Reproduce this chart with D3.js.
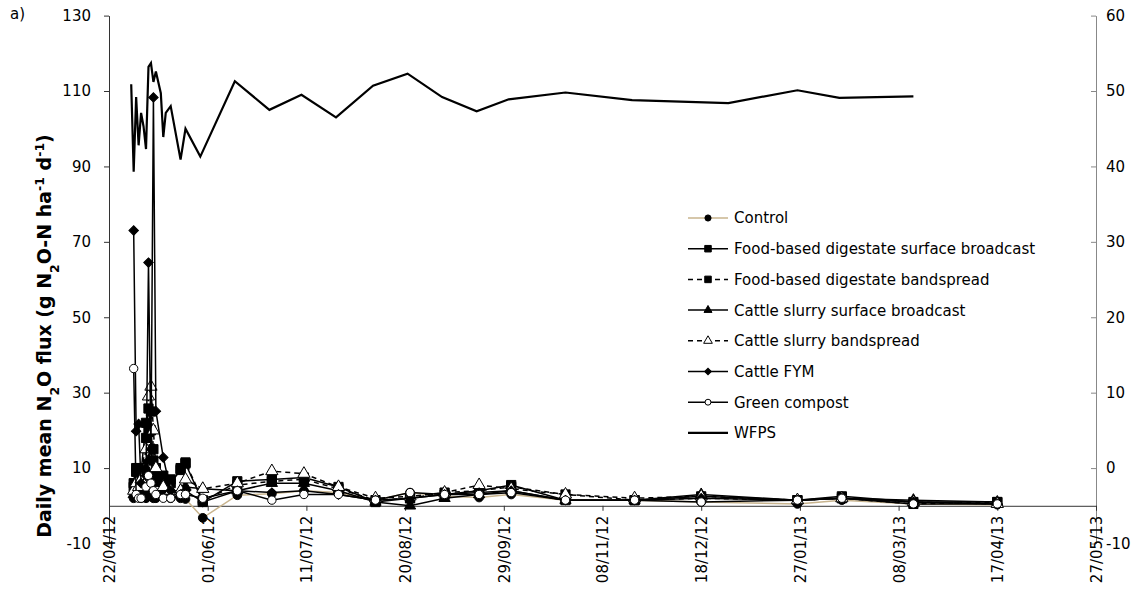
<!DOCTYPE html>
<html lang="en">
<head>
<meta charset="UTF-8">
<title>Daily mean N2O flux</title>
<style>
  body { margin: 0; background: #fff; }
  svg text { font-family: "DejaVu Sans", Verdana, sans-serif; fill: #000; }
</style>
</head>
<body>
<svg width="1140" height="594"></svg>
<script src="https://d3js.org/d3.v7.min.js"></script>
<script>

// sampling dates of the N2O flux series
var fluxDates = ["2012-05-02", "2012-05-03", "2012-05-04", "2012-05-05", "2012-05-07", "2012-05-08",
    "2012-05-09", "2012-05-10", "2012-05-11", "2012-05-14", "2012-05-17", "2012-05-21", "2012-05-23",
    "2012-05-30", "2012-06-13", "2012-06-27", "2012-07-10", "2012-07-24", "2012-08-08", "2012-08-22",
    "2012-09-05", "2012-09-19", "2012-10-02", "2012-10-24", "2012-11-21", "2012-12-18", "2013-01-26",
    "2013-02-13", "2013-03-14", "2013-04-17"];

var control        = [2, 3, 2.5, 2, 2, 3, 2.5, 2, 2, 2.5, 2, 2, 1.8, -3.2, 2.8, 3.2, 4, 3.5, 1.5, 3.5, 2.5, 2.2, 3, 1.5, 1.5, 1, 0.5, 1.5, 0.5, 0.3];
var foodBroadcast  = [5, 10, 8, 9, 22, 25.8, 20, 12, 8, 7, 6, 9.5, 11.2, 1, 6.5, 7, 7.5, 5, 1, 2, 3, 4, 5.5, 1.5, 1.5, 2.5, 1.5, 2.5, 1, 1];
var foodBandspread = [6, 9, 10, 7, 18, 20, 25, 15, 10, 8, 7, 10, 11.5, 1.5, 5.5, 6.5, 7, 4.5, 1.5, 2, 3.5, 4, 5, 3, 1.5, 2, 1.5, 2, 0.5, 1];
var slurryBroadcast  = [3, 5, 6, 4, 10, 12, 15, 8, 6, 4, 3, 4, 5, 4.5, 4, 6, 6, 4, 1, 0, 2, 3, 4, 1.5, 1.5, 3, 1.5, 2, 1.5, 1];
var slurryBandspread = [4, 6, 5, 7, 15, 29, 31.6, 20, 10, 5, 4, 4, 7, 4.5, 6, 9.2, 8.5, 5, 2, 2.5, 3.5, 5.5, 4.5, 3, 2, 2.5, 1.5, 2, 1, 0.5];
var cattleFym      = [73, 19.8, 21.7, 6, 8, 64.5, 15, 108.3, 25.1, 12.8, 4, 3, 4, 1, 4, 3.5, 4, 3, 1.5, 2, 3, 3.5, 4, 1.5, 1.5, 2, 1.5, 2, 1, 0.5];
var greenCompost   = [36.4, 3, 2, 2, 5, 8, 6, 4, 3, 2, 2, 3, 3, 2, 4, 1.5, 3, 3, 1.5, 3.5, 3, 3, 3.5, 1.5, 1.5, 1, 1.5, 2, 0.5, 0.5];

// water filled pore space, right axis
var wfpsDates = ["2012-05-01", "2012-05-02", "2012-05-03", "2012-05-04", "2012-05-05", "2012-05-06",
    "2012-05-07", "2012-05-08", "2012-05-09", "2012-05-10", "2012-05-11", "2012-05-13", "2012-05-14",
    "2012-05-15", "2012-05-17", "2012-05-21", "2012-05-23", "2012-05-29", "2012-06-12", "2012-06-26",
    "2012-07-09", "2012-07-23", "2012-08-07", "2012-08-21", "2012-09-04", "2012-09-18", "2012-10-01",
    "2012-10-24", "2012-11-20", "2012-12-29", "2013-01-26", "2013-02-12", "2013-03-14"];
var wfps = [50.9, 39.3, 49.2, 42.8, 47.1, 45.3, 42.3, 53.2, 53.7, 51.2, 52.6, 49.7, 43.9, 47.1, 48.0,
    40.9, 45.0, 41.3, 51.3, 47.5, 49.5, 46.5, 50.7, 52.3, 49.2, 47.3, 48.9, 49.8, 48.8, 48.4, 50.1, 49.1, 49.3];

var xTickLabels = ["22/04/12", "01/06/12", "11/07/12", "20/08/12", "29/09/12", "08/11/12",
    "18/12/12", "27/01/13", "08/03/13", "17/04/13", "27/05/13"];
var leftTicks = [-10, 10, 30, 50, 70, 90, 110, 130];
var rightTicks = [-10, 0, 10, 20, 30, 40, 50, 60];

var parseIso = d3.utcParse("%Y-%m-%d"),
    parseTick = d3.utcParse("%d/%m/%y"),
    formatTick = d3.utcFormat("%d/%m/%y");

var svg = d3.select("svg");
var plot = {left: 109, right: 1096, top: 15.6, bottom: 543.5};

var x = d3.scaleUtc()
    .domain([parseTick(xTickLabels[0]), parseTick(xTickLabels[xTickLabels.length - 1])])
    .range([plot.left, plot.right]);
var yLeft = d3.scaleLinear().domain([-10, 130]).range([plot.bottom, plot.top]);
var yRight = d3.scaleLinear().domain([-10, 60]).range([plot.bottom, plot.top]);

function plain(d) { return String(d); }   // keep the hyphen minus

// axes
var leftAxis = svg.append("g")
    .attr("transform", "translate(" + plot.left + ",0)")
    .call(d3.axisLeft(yLeft).tickValues(leftTicks).tickFormat(plain)
        .tickSize(5).tickSizeOuter(0).tickPadding(13));
leftAxis.selectAll("path, line").attr("stroke", "#333");
leftAxis.selectAll("text").style("font-size", "15px");

var rightAxis = svg.append("g")
    .attr("transform", "translate(" + plot.right + ",0)")
    .call(d3.axisRight(yRight).tickValues(rightTicks).tickFormat(plain)
        .tickSizeInner(-5).tickSizeOuter(0).tickPadding(10));
rightAxis.selectAll("path, line").attr("stroke", "#888");
rightAxis.selectAll("text").style("font-size", "15px");

var bottomAxis = svg.append("g")
    .attr("transform", "translate(0," + yLeft(0) + ")")
    .call(d3.axisBottom(x).tickValues(xTickLabels.map(parseTick)).tickFormat(formatTick)
        .tickSize(5).tickSizeOuter(0));
bottomAxis.selectAll("path, line").attr("stroke", "#333");
bottomAxis.selectAll("text")
    .style("font-size", "15px")
    .style("text-anchor", "end")
    .attr("x", -10)
    .attr("y", 0)
    .attr("dy", "0.36em")
    .attr("transform", "rotate(-90)");

// series
var series = [
    {name: "Control", values: control, color: "#c8b48e", dash: null, symbol: d3.symbolCircle, size: 60, fill: "#000", rot: 0},
    {name: "Food-based digestate surface broadcast", values: foodBroadcast, color: "#000", dash: null, symbol: d3.symbolSquare, size: 85, fill: "#000", rot: 0},
    {name: "Food-based digestate bandspread", values: foodBandspread, color: "#000", dash: "5,4", symbol: d3.symbolSquare, size: 85, fill: "#000", rot: 0},
    {name: "Cattle slurry surface broadcast", values: slurryBroadcast, color: "#000", dash: null, symbol: d3.symbolTriangle, size: 55, fill: "#000", rot: 0},
    {name: "Cattle slurry bandspread", values: slurryBandspread, color: "#000", dash: "5,4", symbol: d3.symbolTriangle, size: 65, fill: "#fff", rot: 0},
    {name: "Cattle FYM", values: cattleFym, color: "#000", dash: null, symbol: d3.symbolSquare, size: 45, fill: "#000", rot: 45},
    {name: "Green compost", values: greenCompost, color: "#000", dash: null, symbol: d3.symbolCircle, size: 55, fill: "#fff", rot: 0}
];

var fluxLine = d3.line()
    .x(function(d) { return x(d.date); })
    .y(function(d) { return yLeft(d.value); });

series.forEach(function(s) {
    var pts = s.values.map(function(v, i) { return {date: parseIso(fluxDates[i]), value: v}; });
    var g = svg.append("g");
    g.append("path")
        .datum(pts)
        .attr("d", fluxLine)
        .attr("fill", "none")
        .attr("stroke", s.color)
        .attr("stroke-width", 1.5)
        .attr("stroke-dasharray", s.dash);
    g.selectAll(".dot")
        .data(pts)
        .enter()
        .append("path")
        .attr("d", d3.symbol().type(s.symbol).size(s.size))
        .attr("transform", function(d) {
            return "translate(" + x(d.date) + "," + yLeft(d.value) + ") rotate(" + s.rot + ")";
        })
        .attr("fill", s.fill)
        .attr("stroke", "#000")
        .attr("stroke-width", 1);
});

var wfpsLine = d3.line()
    .x(function(d, i) { return x(parseIso(wfpsDates[i])); })
    .y(function(d) { return yRight(d); });

svg.append("path")
    .datum(wfps)
    .attr("d", wfpsLine)
    .attr("fill", "none")
    .attr("stroke", "#000")
    .attr("stroke-width", 2.2)
    .attr("stroke-linejoin", "miter");

// legend
var legendItems = series.concat([{name: "WFPS", color: "#000", dash: null, symbol: null, wfps: true}]);
var legend = svg.append("g").attr("transform", "translate(688,218)");
legendItems.forEach(function(s, i) {
    var row = legend.append("g").attr("transform", "translate(0," + (i * 30.7) + ")");
    row.append("line")
        .attr("x1", 0).attr("x2", 40)
        .attr("stroke", s.color)
        .attr("stroke-width", s.wfps ? 2.2 : 1.5)
        .attr("stroke-dasharray", s.dash);
    if (s.symbol) {
        row.append("path")
            .attr("d", d3.symbol().type(s.symbol).size(s.size * 0.5))
            .attr("transform", "translate(20,0) rotate(" + s.rot + ")")
            .attr("fill", s.fill)
            .attr("stroke", "#000")
            .attr("stroke-width", 1);
    }
    row.append("text")
        .attr("x", 46)
        .attr("dy", "0.36em")
        .style("font-size", "15px")
        .text(s.name);
});

// y title
var title = svg.append("text")
    .attr("transform", "translate(51,336) rotate(-90)")
    .attr("text-anchor", "middle")
    .style("font-size", "19px")
    .style("font-weight", "bold");
title.append("tspan").text("Daily mean N");
title.append("tspan").attr("baseline-shift", "sub").style("font-size", "12.5px").text("2");
title.append("tspan").text("O flux (g N");
title.append("tspan").attr("baseline-shift", "sub").style("font-size", "12.5px").text("2");
title.append("tspan").text("O-N ha");
title.append("tspan").attr("baseline-shift", "super").style("font-size", "12.5px").text("-1");
title.append("tspan").text(" d");
title.append("tspan").attr("baseline-shift", "super").style("font-size", "12.5px").text("-1");
title.append("tspan").text(")");

svg.append("text")
    .attr("x", 10)
    .attr("y", 19)
    .style("font-size", "15px")
    .text("a)");

</script>
</body>
</html>
